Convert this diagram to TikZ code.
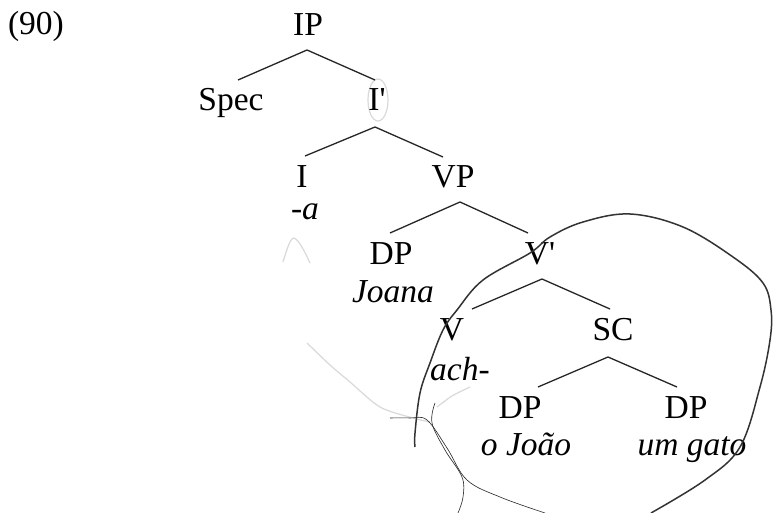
\documentclass[tikz,border=0pt]{standalone}
\usepackage{fontspec}
\setmainfont{Liberation Serif}[Ligatures=TeXOff]
\begin{document}
\begin{tikzpicture}[x=1pt,y=-1pt,
  lab/.style={anchor=base, inner sep=0pt, font=\fontsize{33.5}{38}\selectfont},
  word/.style={lab, font=\fontsize{33.5}{38}\selectfont\itshape},
  branch/.style={line width=1.3pt, black!85},
  loop/.style={line width=1.5pt, black!80},
  thinloop/.style={line width=0.6pt, black!85},
  faint/.style={line width=1.2pt, black!15}]
\useasboundingbox (0,0) rectangle (774,513);
\fill[white] (0,0) rectangle (774,513);
% faint marks
\draw[faint] (378,100) ellipse [x radius=10pt, y radius=21pt];
\draw[faint] (283,262) .. controls (288,245) and (291,238) .. (294,238) .. controls (299,240) and (305,252) .. (310,263);
\draw[faint] plot[smooth] coordinates {(307,343) (330,365) (350,382) (380,407) (413,418) (430,422)};
\draw[faint] plot[smooth] coordinates {(437,407) (452,396) (470,387)};
% labels
\node[lab] (ex) at (36,35) {(90)};
\node[lab] (IP) at (308,36) {IP};
\node[lab] (Spec) at (231,111) {Spec};
\node[lab] (Ib) at (377,111) {I'};
\node[lab] (I) at (302,188) {I};
\node[word] (a) at (305,220) {-a};
\node[lab] (VP) at (453,188) {VP};
\node[lab] (DPj) at (391,265) {DP};
\node[word] (Joana) at (393,302) {Joana};
\node[lab] (Vb) at (540,265) {V'};
\node[lab] (V) at (452,340) {V};
\node[word] (ach) at (460,380) {ach-};
\node[lab] (SC) at (613,340) {SC};
\node[lab] (DPo) at (520,418) {DP};
\node[word] (Joao) at (526,455) {o João};
\node[lab] (DPu) at (686,418) {DP};
\node[word] (gato) at (692,455) {um gato};
% branches
\draw[branch] ([xshift=-1pt,yshift=-14pt]IP.base) -- ([xshift=7pt,yshift=31pt]Spec.base);
\draw[branch] ([xshift=-1pt,yshift=-14pt]IP.base) -- ([xshift=-2pt,yshift=31pt]Ib.base);
\draw[branch] ([xshift=-2pt,yshift=-16pt]Ib.base) -- ([xshift=3pt,yshift=32pt]I.base);
\draw[branch] ([xshift=-2pt,yshift=-16pt]Ib.base) -- ([xshift=-10pt,yshift=31pt]VP.base);
\draw[branch] ([xshift=7pt,yshift=-14pt]VP.base) -- ([xshift=-1pt,yshift=32pt]DPj.base);
\draw[branch] ([xshift=7pt,yshift=-14pt]VP.base) -- ([xshift=-12pt,yshift=32pt]Vb.base);
\draw[branch] ([xshift=2pt,yshift=-14pt]Vb.base) -- ([xshift=20pt,yshift=31pt]V.base);
\draw[branch] ([xshift=2pt,yshift=-14pt]Vb.base) -- ([xshift=-3pt,yshift=31pt]SC.base);
\draw[branch] ([xshift=-5pt,yshift=-17pt]SC.base) -- ([xshift=18pt,yshift=31pt]DPo.base);
\draw[branch] ([xshift=-5pt,yshift=-17pt]SC.base) -- ([xshift=-9pt,yshift=31pt]DPu.base);
% hand-drawn loop
\draw[loop] plot[smooth, tension=0.6] coordinates {(415,447) (415,433) (420,393) (430,363) (443,330) (457,310) (483,280) (530,253) (550,237) (583,222) (630,214) (683,227) (733,257) (763,283) (771,310) (770,340) (760,387) (740,447) (705,480) (651,513)};
\draw[thinloop] plot[smooth, tension=0.6] coordinates {(390,418) (410,418) (427,420) (447,448) (467,480) (500,497) (545,513)};
\draw[thinloop] plot[smooth, tension=0.6] coordinates {(435,403) (432,423) (445,450) (462,477) (463,497) (458,513)};
\end{tikzpicture}
\end{document}
